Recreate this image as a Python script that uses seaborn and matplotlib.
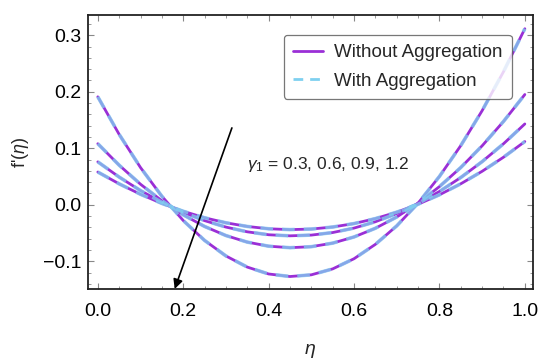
import numpy as np
import pandas as pd
import matplotlib
matplotlib.use("Agg")
import matplotlib.pyplot as plt
from matplotlib.ticker import MultipleLocator
from matplotlib.lines import Line2D
import seaborn as sns

eta = [0.00, 0.05, 0.10, 0.15, 0.20, 0.25, 0.30, 0.35, 0.40, 0.45, 0.50,
       0.55, 0.60, 0.65, 0.70, 0.75, 0.80, 0.85, 0.90, 0.95, 1.00]
gamma_labels = ["0.3", "0.6", "0.9", "1.2"]
f_g03 = [0.191, 0.1245, 0.0658, 0.0150, -0.0279, -0.0631, -0.0906, -0.1103, -0.1225, -0.127, -0.124,
         -0.1135, -0.0955, -0.0701, -0.0374, 0.0028, 0.0501, 0.1047, 0.1665, 0.2354, 0.3115]
f_g06 = [0.108, 0.070, 0.0363, 0.0070, -0.0179, -0.0384, -0.0545, -0.0661, -0.0733, -0.076, -0.0742,
         -0.0679, -0.057, -0.0416, -0.0217, 0.0029, 0.0321, 0.0659, 0.1043, 0.1474, 0.1951]
f_g09 = [0.0759, 0.049, 0.0251, 0.0043, -0.0135, -0.0281, -0.0395, -0.0479, -0.0531, -0.055, -0.0537,
         -0.0492, -0.0413, -0.0301, -0.0156, 0.0023, 0.0235, 0.0482, 0.0763, 0.1079, 0.143]
f_g12 = [0.0579, 0.037, 0.0185, 0.0023, -0.0115, -0.023, -0.0319, -0.0384, -0.0425, -0.044, -0.043,
         -0.0394, -0.0333, -0.0245, -0.0131, 0.0009, 0.0176, 0.0371, 0.0592, 0.0841, 0.1118]
series = [f_g03, f_g06, f_g09, f_g12]
xtick_labels = ["0.0", "0.2", "0.4", "0.6", "0.8", "1.0"]
ytick_labels = ["\u22120.1", "0.0", "0.1", "0.2", "0.3"]

rows = []
for g, vals in zip(gamma_labels, series):
    for x, y in zip(eta, vals):
        rows.append({"eta": x, "f": y, "gamma": g})
df = pd.DataFrame(rows)

sns.set_style("ticks")
plt.rcParams['font.family'] = ['Liberation Sans', 'DejaVu Sans']
plt.rcParams['mathtext.fontset'] = 'custom'
plt.rcParams['mathtext.it'] = 'Liberation Sans:italic'
plt.rcParams['mathtext.rm'] = 'Liberation Sans'

fig = plt.figure(figsize=(5.5, 3.63), dpi=100)
ax = fig.add_axes([0.16, 0.204, 0.809, 0.755])

purple = "#9a2fd6"
cyan = "#7fd0f0"

sns.lineplot(data=df, x="eta", y="f", units="gamma", estimator=None,
             color=purple, lw=2.0, ax=ax, legend=False)
sns.lineplot(data=df, x="eta", y="f", units="gamma", estimator=None,
             color=cyan, lw=2.6, alpha=0.75, ax=ax, legend=False)
for ln in ax.lines[len(gamma_labels):]:
    ln.set_linestyle((0, (3.5, 2.5)))

ax.set_xlim(-0.023, 1.019)
ax.set_ylim(-0.149, 0.336)
ax.xaxis.set_minor_locator(MultipleLocator(0.05))
ax.yaxis.set_minor_locator(MultipleLocator(0.02))
ax.set_xticks([0.0, 0.2, 0.4, 0.6, 0.8, 1.0])
ax.set_xticklabels(xtick_labels)
ax.set_yticks([-0.1, 0.0, 0.1, 0.2, 0.3])
ax.set_yticklabels(ytick_labels)
ax.tick_params(which="both", direction="in", top=True, right=True, color="#888888")
ax.tick_params(which="major", length=4, width=0.8, labelsize=14, labelcolor="black")
ax.tick_params(axis="x", which="major", pad=10)
ax.tick_params(axis="y", which="major", pad=5)
ax.tick_params(which="minor", length=2, width=0.6)
for s in ax.spines.values():
    s.set_linewidth(1.3)
    s.set_color("#222222")

ax.set_xlabel(r"$\mathit{\eta}$", fontsize=14, labelpad=16)
ax.set_ylabel(r"f'($\mathit{\eta}$)", fontsize=13, labelpad=8)

ax.annotate("", xy=(0.18, -0.149), xytext=(0.314, 0.136),
            arrowprops=dict(arrowstyle="-|>", color="black", lw=1.2,
                            mutation_scale=14, shrinkA=0, shrinkB=0))
ax.text(0.35, 0.072, r"$\mathit{\gamma}_1$ = 0.3, 0.6, 0.9, 1.2", fontsize=12.5,
        va="center", ha="left")

handles = [Line2D([], [], color=purple, lw=2),
           Line2D([], [], color=cyan, lw=2, ls=(0, (3.5, 2.5)))]
leg = ax.legend(handles, ["Without Aggregation", "With Aggregation"],
                loc="upper right", bbox_to_anchor=(0.974, 0.962), fontsize=13.5,
                frameon=True, fancybox=True, handlelength=1.6,
                labelspacing=0.6, borderpad=0.5, handletextpad=0.6)
leg.get_frame().set_edgecolor("#555555")
leg.get_frame().set_linewidth(0.9)

fig.savefig("out.png", dpi=100)
